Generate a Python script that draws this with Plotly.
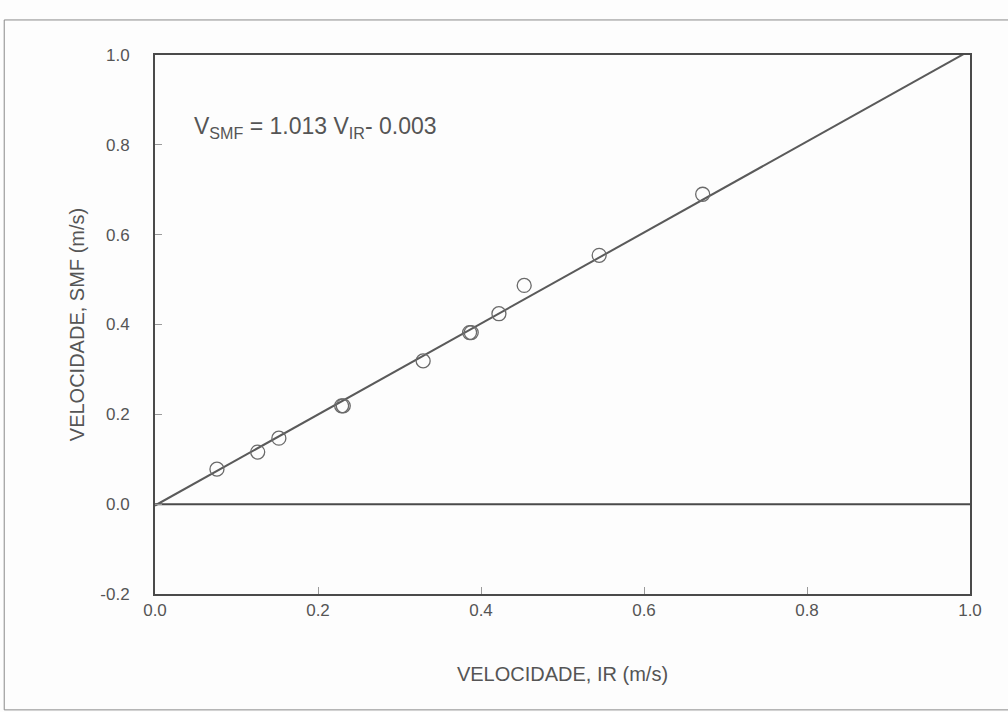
import plotly.graph_objects as go

# Measured velocities (m/s): infrared reference vs. SMF
v_ir = [0.076, 0.126, 0.152, 0.229, 0.231, 0.329, 0.386, 0.388, 0.422, 0.453, 0.545, 0.672]
v_smf = [0.078, 0.116, 0.147, 0.219, 0.219, 0.319, 0.382, 0.382, 0.424, 0.487, 0.554, 0.690]

# Linear fit V_SMF = a * V_IR + b
fit_a = 1.013
fit_b = -0.003
fit_x = [0.0, 1.0]

x_ticks = [0.0, 0.2, 0.4, 0.6, 0.8, 1.0]
y_ticks = [-0.2, 0.0, 0.2, 0.4, 0.6, 0.8, 1.0]

ink = "#4a4a4a"
text_col = "#555555"
font_family = "Liberation Sans, Arial, sans-serif"

fig = go.Figure()

# Zero reference line
fig.add_trace(go.Scatter(
    x=[0.0, 1.0], y=[0.0, 0.0], mode="lines",
    line=dict(color=ink, width=2), hoverinfo="skip", showlegend=False,
))

# Fitted regression line
fig.add_trace(go.Scatter(
    x=fit_x, y=[fit_a * v + fit_b for v in fit_x], mode="lines",
    line=dict(color="#5a5a5a", width=2), hoverinfo="skip", showlegend=False,
))

# Observations
fig.add_trace(go.Scatter(
    x=v_ir, y=v_smf, mode="markers",
    marker=dict(symbol="circle-open", size=14, color="#6a6a6a", line=dict(width=1.3)),
    showlegend=False,
))

fig.add_annotation(
    xref="paper", yref="paper", x=0.045, y=0.865, xanchor="left", yanchor="middle",
    text="V<sub>SMF</sub> = 1.013 V<sub>IR</sub>- 0.003", showarrow=False,
    font=dict(family=font_family, size=23, color=text_col),
)

# Outer frame around the whole figure
fig.add_shape(
    type="rect", xref="paper", yref="paper", x0=-0.185, x1=1.06, y0=-0.215, y1=1.065,
    line=dict(color="#8a8a8a", width=1), layer="below",
)

fig.update_xaxes(
    range=[0.0, 1.0], tickvals=x_ticks, ticktext=[f"{v:.1f}" for v in x_ticks],
    ticks="inside", ticklen=7, tickcolor="#9a9a9a", tickwidth=1,
    showline=True, linecolor=ink, linewidth=2, mirror=True, showgrid=False, zeroline=False,
    tickfont=dict(family=font_family, size=17, color=text_col), ticklabelstandoff=0,
    title=dict(text="VELOCIDADE, IR (m/s)", font=dict(family=font_family, size=20, color=text_col), standoff=48),
)
fig.update_yaxes(
    range=[-0.2, 1.0], tickvals=y_ticks, ticktext=[f"{v:.1f}" for v in y_ticks],
    ticks="inside", ticklen=7, tickcolor="#9a9a9a", tickwidth=1,
    showline=True, linecolor=ink, linewidth=2, mirror=True, showgrid=False, zeroline=False,
    tickfont=dict(family=font_family, size=17, color=text_col), ticklabelstandoff=20,
    title=dict(text="VELOCIDADE, SMF (m/s)", font=dict(family=font_family, size=20, color=text_col), standoff=10),
)

fig.update_layout(
    width=1008, height=712,
    margin=dict(l=155, r=38, t=55, b=118),
    paper_bgcolor="#fdfdfd", plot_bgcolor="#fdfdfd",
)

fig.write_html("out.html")
